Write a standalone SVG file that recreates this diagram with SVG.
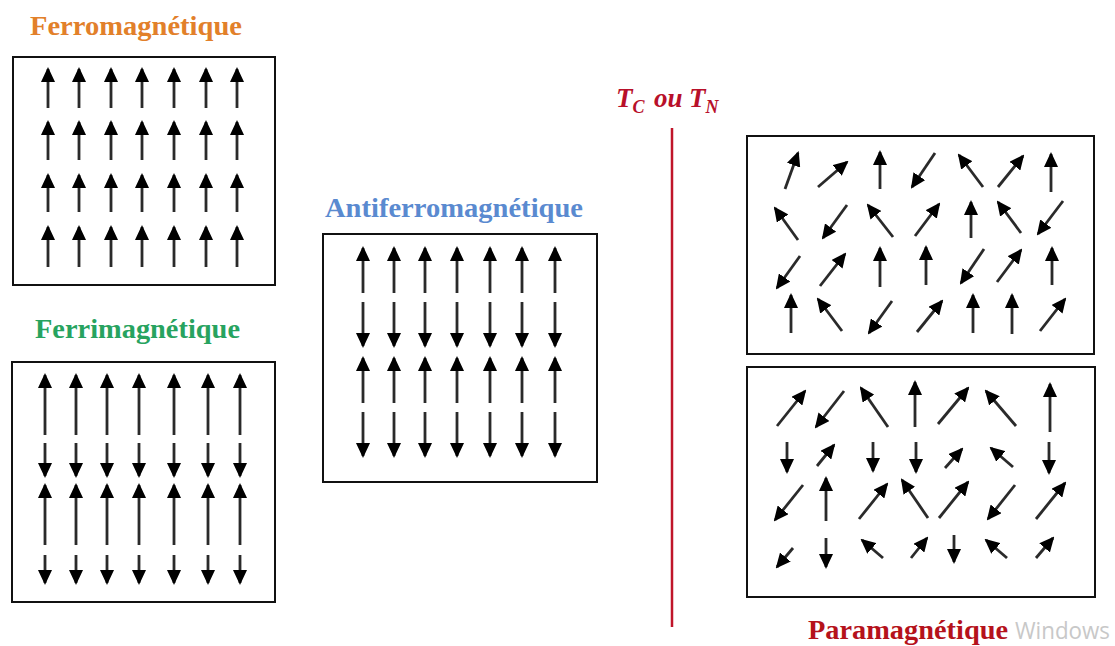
<svg xmlns="http://www.w3.org/2000/svg" width="1115" height="646" viewBox="0 0 1115 646">
<style>
.box{fill:#fff;stroke:#111;stroke-width:2}
.ar{stroke:#2a2a2a;stroke-width:2.8;fill:none;marker-end:url(#ah)}
.ttl{font-family:"Liberation Serif","Times New Roman",serif;font-weight:bold;font-size:28px}
</style>
<defs>
<marker id="ah" viewBox="0 0 15 14" refX="13" refY="7" markerWidth="15" markerHeight="14" markerUnits="userSpaceOnUse" orient="auto">
<path d="M0,0 L15,7 L0,14 z" fill="#000"/>
</marker>
</defs>
<rect width="1115" height="646" fill="#fff"/>

<g id="ferro">
<text class="ttl" x="30" y="35" fill="#E2802A" textLength="212" lengthAdjust="spacingAndGlyphs">Ferromagnétique</text>
<rect class="box" x="13" y="57" width="262" height="228"/>
<g class="ar">
<line x1="48" y1="108" x2="48" y2="69"/><line x1="79" y1="108" x2="79" y2="69"/><line x1="111" y1="108" x2="111" y2="69"/><line x1="142" y1="108" x2="142" y2="69"/><line x1="174" y1="108" x2="174" y2="69"/><line x1="206" y1="108" x2="206" y2="69"/><line x1="237" y1="108" x2="237" y2="69"/>
<line x1="48" y1="160" x2="48" y2="122"/><line x1="79" y1="160" x2="79" y2="122"/><line x1="111" y1="160" x2="111" y2="122"/><line x1="142" y1="160" x2="142" y2="122"/><line x1="174" y1="160" x2="174" y2="122"/><line x1="206" y1="160" x2="206" y2="122"/><line x1="237" y1="160" x2="237" y2="122"/>
<line x1="48" y1="212" x2="48" y2="175"/><line x1="79" y1="212" x2="79" y2="175"/><line x1="111" y1="212" x2="111" y2="175"/><line x1="142" y1="212" x2="142" y2="175"/><line x1="174" y1="212" x2="174" y2="175"/><line x1="206" y1="212" x2="206" y2="175"/><line x1="237" y1="212" x2="237" y2="175"/>
<line x1="48" y1="267" x2="48" y2="227"/><line x1="79" y1="267" x2="79" y2="227"/><line x1="111" y1="267" x2="111" y2="227"/><line x1="142" y1="267" x2="142" y2="227"/><line x1="174" y1="267" x2="174" y2="227"/><line x1="206" y1="267" x2="206" y2="227"/><line x1="237" y1="267" x2="237" y2="227"/>
</g>
</g>

<g id="ferri">
<text class="ttl" x="35" y="338" fill="#27A35F" textLength="205" lengthAdjust="spacingAndGlyphs">Ferrimagnétique</text>
<rect class="box" x="12" y="362" width="263" height="240"/>
<g class="ar">
<line x1="45" y1="435" x2="45" y2="375"/><line x1="76" y1="435" x2="76" y2="375"/><line x1="107" y1="435" x2="107" y2="375"/><line x1="139" y1="435" x2="139" y2="375"/><line x1="174" y1="435" x2="174" y2="375"/><line x1="208" y1="435" x2="208" y2="375"/><line x1="240" y1="435" x2="240" y2="375"/>
<line x1="45" y1="443" x2="45" y2="476"/><line x1="76" y1="443" x2="76" y2="476"/><line x1="107" y1="443" x2="107" y2="476"/><line x1="139" y1="443" x2="139" y2="476"/><line x1="174" y1="443" x2="174" y2="476"/><line x1="208" y1="443" x2="208" y2="476"/><line x1="240" y1="443" x2="240" y2="476"/>
<line x1="45" y1="545" x2="45" y2="485"/><line x1="76" y1="545" x2="76" y2="485"/><line x1="107" y1="545" x2="107" y2="485"/><line x1="139" y1="545" x2="139" y2="485"/><line x1="174" y1="545" x2="174" y2="485"/><line x1="208" y1="545" x2="208" y2="485"/><line x1="240" y1="545" x2="240" y2="485"/>
<line x1="45" y1="555" x2="45" y2="583"/><line x1="76" y1="555" x2="76" y2="583"/><line x1="107" y1="555" x2="107" y2="583"/><line x1="139" y1="555" x2="139" y2="583"/><line x1="174" y1="555" x2="174" y2="583"/><line x1="208" y1="555" x2="208" y2="583"/><line x1="240" y1="555" x2="240" y2="583"/>
</g>
</g>

<g id="antiferro">
<text class="ttl" x="325" y="217" fill="#5A8AD0" textLength="258" lengthAdjust="spacingAndGlyphs">Antiferromagnétique</text>
<rect class="box" x="323" y="234" width="274" height="248"/>
<g class="ar">
<line x1="363" y1="293" x2="363" y2="248"/><line x1="394" y1="293" x2="394" y2="248"/><line x1="425" y1="293" x2="425" y2="248"/><line x1="457" y1="293" x2="457" y2="248"/><line x1="490" y1="293" x2="490" y2="248"/><line x1="522" y1="293" x2="522" y2="248"/><line x1="555" y1="293" x2="555" y2="248"/>
<line x1="363" y1="302" x2="363" y2="346"/><line x1="394" y1="302" x2="394" y2="346"/><line x1="425" y1="302" x2="425" y2="346"/><line x1="457" y1="302" x2="457" y2="346"/><line x1="490" y1="302" x2="490" y2="346"/><line x1="522" y1="302" x2="522" y2="346"/><line x1="555" y1="302" x2="555" y2="346"/>
<line x1="363" y1="403" x2="363" y2="358"/><line x1="394" y1="403" x2="394" y2="358"/><line x1="425" y1="403" x2="425" y2="358"/><line x1="457" y1="403" x2="457" y2="358"/><line x1="490" y1="403" x2="490" y2="358"/><line x1="522" y1="403" x2="522" y2="358"/><line x1="555" y1="403" x2="555" y2="358"/>
<line x1="363" y1="412" x2="363" y2="456"/><line x1="394" y1="412" x2="394" y2="456"/><line x1="425" y1="412" x2="425" y2="456"/><line x1="457" y1="412" x2="457" y2="456"/><line x1="490" y1="412" x2="490" y2="456"/><line x1="522" y1="412" x2="522" y2="456"/><line x1="555" y1="412" x2="555" y2="456"/>
</g>
</g>

<g id="transition">
<line x1="672" y1="128" x2="672" y2="627" stroke="#C0152A" stroke-width="2.5"/>
<text x="616" y="107" fill="#B8102A" font-family="Liberation Serif, Times New Roman, serif" font-style="italic" font-weight="bold" font-size="27">T<tspan font-size="18" dy="6">C</tspan><tspan dy="-6" x="654">ou</tspan><tspan x="689">T</tspan><tspan font-size="18" dy="6">N</tspan></text>
</g>

<g id="para-top">
<rect class="box" x="747" y="136" width="347" height="218"/>
<g class="ar">
<line x1="785" y1="189" x2="798" y2="153"/><line x1="818" y1="187" x2="847" y2="162"/><line x1="880" y1="189" x2="880" y2="152"/><line x1="935" y1="153" x2="912" y2="187"/><line x1="983" y1="187" x2="959" y2="155"/><line x1="998" y1="187" x2="1023" y2="156"/><line x1="1051" y1="192" x2="1051" y2="154"/>
<line x1="798" y1="240" x2="775" y2="208"/><line x1="847" y1="205" x2="823" y2="238"/><line x1="893" y1="237" x2="868" y2="205"/><line x1="915" y1="236" x2="939" y2="204"/><line x1="971" y1="238" x2="971" y2="202"/><line x1="1021" y1="233" x2="998" y2="202"/><line x1="1063" y1="201" x2="1038" y2="234"/>
<line x1="800" y1="256" x2="777" y2="288"/><line x1="820" y1="286" x2="845" y2="254"/><line x1="880" y1="287" x2="880" y2="248"/><line x1="926" y1="285" x2="926" y2="247"/><line x1="984" y1="249" x2="961" y2="283"/><line x1="997" y1="282" x2="1021" y2="250"/><line x1="1052" y1="285" x2="1052" y2="248"/>
<line x1="791" y1="333" x2="791" y2="295"/><line x1="842" y1="331" x2="818" y2="299"/><line x1="892" y1="301" x2="869" y2="333"/><line x1="917" y1="332" x2="942" y2="301"/><line x1="973" y1="333" x2="973" y2="295"/><line x1="1012" y1="334" x2="1012" y2="295"/><line x1="1040" y1="331" x2="1065" y2="299"/>
</g>
</g>

<g id="para-bottom">
<rect class="box" x="747" y="367" width="348" height="230"/>
<g class="ar">
<line x1="777" y1="426" x2="805" y2="391"/><line x1="844" y1="391" x2="816" y2="427"/><line x1="888" y1="427" x2="861" y2="388"/><line x1="915" y1="427" x2="915" y2="382"/><line x1="938" y1="424" x2="968" y2="388"/><line x1="1016" y1="426" x2="986" y2="391"/><line x1="1050" y1="432" x2="1050" y2="384"/>
<line x1="787" y1="442" x2="787" y2="472"/><line x1="817" y1="466" x2="834" y2="445"/><line x1="873" y1="442" x2="873" y2="471"/><line x1="916" y1="442" x2="916" y2="472"/><line x1="945" y1="468" x2="962" y2="449"/><line x1="1013" y1="467" x2="991" y2="448"/><line x1="1049" y1="442" x2="1049" y2="473"/>
<line x1="803" y1="485" x2="775" y2="520"/><line x1="826" y1="521" x2="826" y2="478"/><line x1="859" y1="519" x2="887" y2="484"/><line x1="928" y1="518" x2="902" y2="480"/><line x1="939" y1="518" x2="968" y2="482"/><line x1="1015" y1="485" x2="988" y2="519"/><line x1="1036" y1="519" x2="1065" y2="483"/>
<line x1="793" y1="548" x2="777" y2="567"/><line x1="826" y1="538" x2="826" y2="567"/><line x1="883" y1="558" x2="862" y2="540"/><line x1="911" y1="558" x2="927" y2="538"/><line x1="954" y1="535" x2="954" y2="562"/><line x1="1007" y1="558" x2="986" y2="540"/><line x1="1036" y1="558" x2="1053" y2="538"/>
</g>
<text class="ttl" x="808" y="639" fill="#B5121B" textLength="200" lengthAdjust="spacingAndGlyphs">Paramagnétique</text>
</g>

<text x="1015" y="639" fill="#c8c8c8" font-family="Open Sans, Liberation Sans, sans-serif" font-size="24" textLength="95" lengthAdjust="spacingAndGlyphs">Windows</text>
</svg>
